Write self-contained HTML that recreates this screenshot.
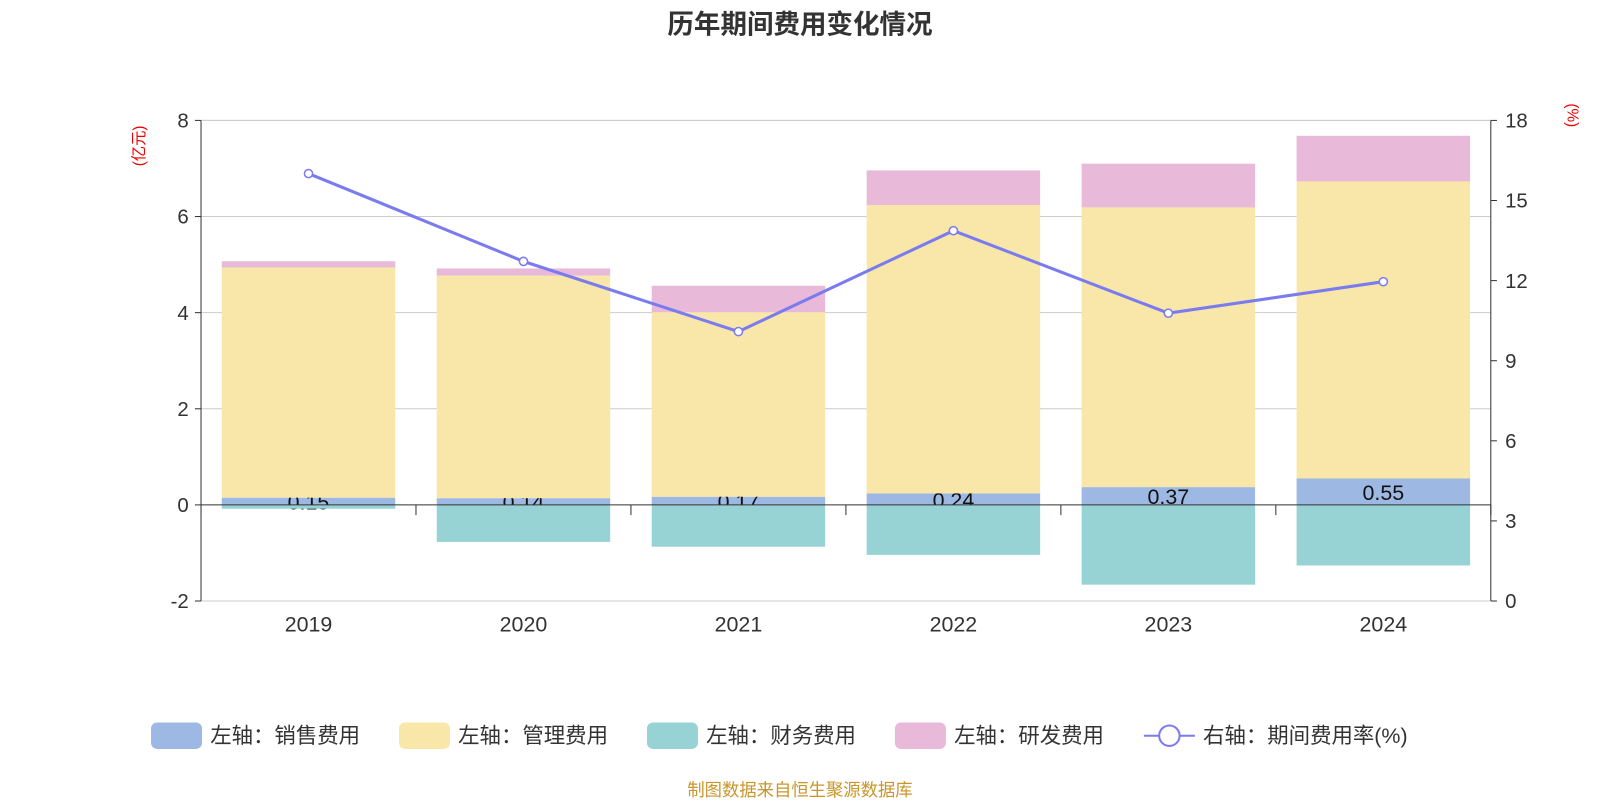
<!DOCTYPE html>
<html><head><meta charset="utf-8"><style>
body{margin:0;background:#fff;font-family:"Liberation Sans","Noto Sans CJK SC",sans-serif;}
</style></head><body>
<svg width="1600" height="800" viewBox="0 0 1568 784" xmlns="http://www.w3.org/2000/svg" font-family="Liberation Sans, Noto Sans CJK SC, sans-serif">
<text x="784" y="33" text-anchor="middle" font-size="26" font-weight="bold" fill="#333">历年期间费用变化情况</text>
<text x="0" y="0" transform="translate(141,143) rotate(-90)" text-anchor="middle" font-size="15" fill="#e00">(亿元)</text>
<text x="0" y="0" transform="translate(1536,113) rotate(90)" text-anchor="middle" font-size="15" fill="#e00">(%)</text>
<g id="plot"></g>
<g id="legend"></g>
<text x="784" y="780" text-anchor="middle" font-size="17" fill="#c8962c">制图数据来自恒生聚源数据库</text>
</svg>
<script>
const categories=["2019","2020","2021","2022","2023","2024"];
const sales=[0.15,0.14,0.17,0.24,0.37,0.55];
const admin=[4.79,4.63,3.84,6.00,5.82,6.18];
const finance=[-0.08,-0.77,-0.87,-1.04,-1.66,-1.26];
const rd=[0.13,0.15,0.55,0.72,0.91,0.95];
const rate=[16.01,12.72,10.09,13.87,10.78,11.96];
const leftTicks=[-2,0,2,4,6,8];
const rightTicks=[0,3,6,9,12,15,18];
const NS="http://www.w3.org/2000/svg";
const L=197,R=1461,T=118,B=589;
const yL=v=>T+(8-v)*(B-T)/10;
const yR=v=>B-v*(B-T)/18;
const bw=(R-L)/categories.length;
const xC=i=>L+bw*(i+0.5);
const plot=document.getElementById('plot');
function mk(tag,attrs,parent){const e=document.createElementNS(NS,tag);for(const k in attrs)e.setAttribute(k,attrs[k]);(parent||plot).appendChild(e);return e;}
leftTicks.forEach(v=>{
 if(v!==0){const g=mk('line',{x1:L,x2:R,y1:yL(v),y2:yL(v),stroke:'#ccc','stroke-width':1});
 
 }
 mk('line',{x1:L-6,x2:L,y1:yL(v),y2:yL(v),stroke:'#333'});
 const t=mk('text',{x:L-12,y:yL(v)+7,'text-anchor':'end','font-size':20,fill:'#333'});t.textContent=v;
 
 
});
rightTicks.forEach(v=>{
 mk('line',{x1:R,x2:R+6,y1:yR(v),y2:yR(v),stroke:'#333'});
 const t=mk('text',{x:R+14,y:yR(v)+7,'font-size':20,fill:'#333'});t.textContent=v;
 
 
});
categories.forEach((c,i)=>{
 const x=xC(i)-85;
 const b=mk('rect',{x:x,y:yL(sales[i]),width:170,height:yL(0)-yL(sales[i]),fill:'#9db8e2'});
 
 
 const t=mk('text',{x:xC(i),y:(yL(0)+yL(sales[i]))/2+8,'text-anchor':'middle','font-size':21,fill:'#111'});t.textContent=sales[i].toFixed(2);
 
 
});
categories.forEach((c,i)=>{
 const x=xC(i)-85;
 const a=mk('rect',{x:x,y:yL(sales[i]+admin[i]),width:170,height:yL(sales[i])-yL(sales[i]+admin[i]),fill:'#f8e7a8'});
 
 
 const r=mk('rect',{x:x,y:yL(sales[i]+admin[i]+rd[i]),width:170,height:yL(sales[i]+admin[i])-yL(sales[i]+admin[i]+rd[i]),fill:'#e8b9d9'});
 
 
 const f=mk('rect',{x:x,y:yL(0),width:170,height:yL(finance[i])-yL(0),fill:'#97d3d4'});
 
 
 const t=mk('text',{x:xC(i),y:619,'text-anchor':'middle','font-size':21,fill:'#333'});t.textContent=c;
 
 
});
mk('line',{x1:L,x2:R,y1:T,y2:T,stroke:'#ccc'});
mk('line',{x1:L,x2:R,y1:B,y2:B,stroke:'#ccc'});
mk('line',{x1:L,x2:R,y1:yL(0),y2:yL(0),stroke:'#333'});
for(let i=0;i<=categories.length;i++)mk('line',{x1:L+bw*i,x2:L+bw*i,y1:yL(0),y2:yL(0)+10,stroke:'#333'});
mk('line',{x1:L,x2:L,y1:T,y2:B,stroke:'#333'});
mk('line',{x1:R,x2:R,y1:T,y2:B,stroke:'#333'});
const pts=rate.map((v,i)=>xC(i)+','+yR(v)).join(' ');
const pl=mk('polyline',{points:pts,fill:'none',stroke:'#7b7bf0','stroke-width':3});


rate.forEach((v,i)=>{const c=mk('circle',{cx:xC(i),cy:yR(v),r:4,fill:'#fff',stroke:'#7b7bf0','stroke-width':1.5});
 
 });
const lg=document.getElementById('legend');
const items=[["左轴：销售费用","#9db8e2",148],["左轴：管理费用","#f8e7a8",391],["左轴：财务费用","#97d3d4",634],["左轴：研发费用","#e8b9d9",877]];
items.forEach(it=>{
 const g=mk('g',{},lg);
 
 
 mk('rect',{x:it[2],y:708,width:50,height:26,rx:6,fill:it[1]},g);
 const t=mk('text',{x:it[2]+58,y:728,'font-size':21,fill:'#333'},g);t.textContent=it[0];
});
const g=mk('g',{},lg);


mk('line',{x1:1121,x2:1171,y1:721,y2:721,stroke:'#7b7bf0','stroke-width':2},g);
mk('circle',{cx:1146,cy:721,r:10,fill:'#fff',stroke:'#7b7bf0','stroke-width':2},g);
const t=mk('text',{x:1179,y:728,'font-size':21,fill:'#333'},g);t.textContent="右轴：期间费用率(%)";
</script>
</body></html>
